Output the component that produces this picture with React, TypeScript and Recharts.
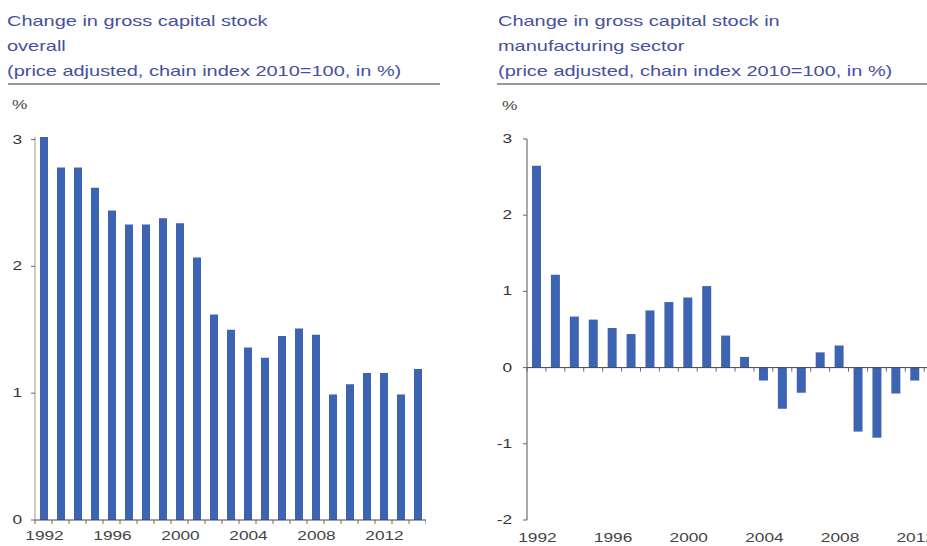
import React from "react";
import { BarChart, Bar, XAxis, YAxis, ReferenceLine } from "recharts";

const years = [
  "1992", "1993", "1994", "1995", "1996", "1997", "1998", "1999", "2000", "2001", "2002",
  "2003", "2004", "2005", "2006", "2007", "2008", "2009", "2010", "2011", "2012", "2013", "2014",
];

// overall gross capital stock, % change
const overall = [
  3.02, 2.78, 2.78, 2.62, 2.44, 2.33, 2.33, 2.38, 2.34, 2.07, 1.62,
  1.5, 1.36, 1.28, 1.45, 1.51, 1.46, 0.99, 1.07, 1.16, 1.16, 0.99, 1.19,
];

// manufacturing sector, % change (2013/2014 cut off in the source)
const manufacturing = [
  2.65, 1.22, 0.67, 0.63, 0.52, 0.44, 0.75, 0.86, 0.92, 1.07, 0.42,
  0.14, -0.17, -0.54, -0.33, 0.2, 0.29, -0.84, -0.92, -0.34, -0.17, null, null,
];

const leftTicks = [0, 1, 2, 3];
const rightTicks = [-2, -1, 0, 1, 2, 3];
const labelYears = ["1992", "1996", "2000", "2004", "2008", "2012"];

const leftData = years.map((year, i) => ({ year, value: overall[i] }));
const rightData = years.map((year, i) => ({ year, value: manufacturing[i] }));

const FONT = "'Liberation Sans', Arial, sans-serif";
const BLUE = "#3d63b3";
const TITLE = "#4550a0";
const AXIS = "#666";
const STRETCH = 1.33; // source text is drawn wide

// layout
const L_W = 426;
const L_YW = 35;
const R_W = 502;
const R_YW = 67;
const R_TOP = 139;
const PLOT_BOTTOM = 520;
const L_STEP = (L_W - L_YW) / years.length;
const R_STEP = (R_W - R_YW) / years.length;
const R_ZERO = R_TOP + ((PLOT_BOTTOM - R_TOP) * 3) / 5;

const YTick = (props: any) => {
  const { x, y, payload } = props;
  return (
    <text
      transform={`translate(${x},${y + 4}) scale(${STRETCH},1)`}
      textAnchor="end"
      fontSize={13}
      fill="#333"
      fontFamily={FONT}
    >
      {payload.value}
    </text>
  );
};

const makeTick = (step: number, markY: number | null, labelDy: number) => (props: any) => {
  const { x, y, payload, index } = props;
  const my = markY == null ? y : markY;
  return (
    <g>
      {index === 0 && <line x1={x - step / 2} x2={x - step / 2} y1={my} y2={my + 4} stroke={AXIS} />}
      <line x1={x + step / 2} x2={x + step / 2} y1={my} y2={my + 4} stroke={AXIS} />
      {labelYears.includes(payload.value) && (
        <text
          transform={`translate(${x + 1},${y + labelDy}) scale(${STRETCH},1)`}
          textAnchor="middle"
          fontSize={13}
          fill="#444"
          fontFamily={FONT}
        >
          {payload.value}
        </text>
      )}
    </g>
  );
};

const titleStyle: React.CSSProperties = {
  position: "absolute",
  top: 8,
  fontFamily: FONT,
  fontSize: 15,
  lineHeight: "25px",
  color: TITLE,
  whiteSpace: "nowrap",
  transform: `scaleX(${STRETCH})`,
  transformOrigin: "left top",
};

const pctStyle: React.CSSProperties = {
  position: "absolute",
  fontSize: 13,
  color: "#444",
  transform: `scaleX(${STRETCH})`,
  transformOrigin: "left top",
};

export default function App() {
  return (
    <div
      style={{
        position: "fixed",
        left: 0,
        top: 0,
        width: 927,
        height: 546,
        overflow: "hidden",
        background: "#fff",
        fontFamily: FONT,
      }}
    >
      <div style={{ ...titleStyle, left: 7 }}>
        Change in gross capital stock
        <br />
        overall
        <br />
        (price adjusted, chain index 2010=100, in %)
      </div>
      <div style={{ position: "absolute", left: 8, top: 83, width: 432, height: 2, background: "#999" }} />
      <div style={{ ...pctStyle, left: 12, top: 97 }}>%</div>

      <div style={{ ...titleStyle, left: 498 }}>
        Change in gross capital stock in
        <br />
        manufacturing sector
        <br />
        (price adjusted, chain index 2010=100, in %)
      </div>
      <div style={{ position: "absolute", left: 497, top: 83, width: 430, height: 2, background: "#999" }} />
      <div style={{ ...pctStyle, left: 502, top: 98 }}>%</div>

      <div style={{ position: "absolute", left: 0, top: 0 }}>
        <BarChart width={L_W} height={546} data={leftData} margin={{ top: 137, right: 0, left: 0, bottom: 6 }}>
          <XAxis
            dataKey="year"
            height={20}
            interval={0}
            tickSize={0}
            tickMargin={0}
            tickLine={false}
            axisLine={{ stroke: "#444" }}
            tick={makeTick(L_STEP, null, 20)}
          />
          <YAxis
            width={L_YW}
            domain={[0, 3]}
            ticks={leftTicks}
            tickSize={4}
            tickMargin={9}
            axisLine={{ stroke: "#999" }}
            tickLine={{ stroke: AXIS }}
            tick={YTick}
          />
          <Bar dataKey="value" fill={BLUE} barSize={8} isAnimationActive={false} />
        </BarChart>
      </div>

      <div style={{ position: "absolute", left: 460, top: 0 }}>
        <BarChart width={R_W} height={546} data={rightData} margin={{ top: R_TOP, right: 0, left: 0, bottom: 6 }}>
          <XAxis
            dataKey="year"
            height={20}
            interval={0}
            tickSize={0}
            tickMargin={0}
            tickLine={false}
            axisLine={false}
            tick={makeTick(R_STEP, R_ZERO, 22)}
          />
          <YAxis
            width={R_YW}
            domain={[-2, 3]}
            ticks={rightTicks}
            tickSize={4}
            tickMargin={11}
            axisLine={{ stroke: "#555" }}
            tickLine={{ stroke: AXIS }}
            tick={YTick}
          />
          <ReferenceLine y={0} stroke="#444" />
          <Bar dataKey="value" fill={BLUE} barSize={9} isAnimationActive={false} />
        </BarChart>
      </div>
    </div>
  );
}
